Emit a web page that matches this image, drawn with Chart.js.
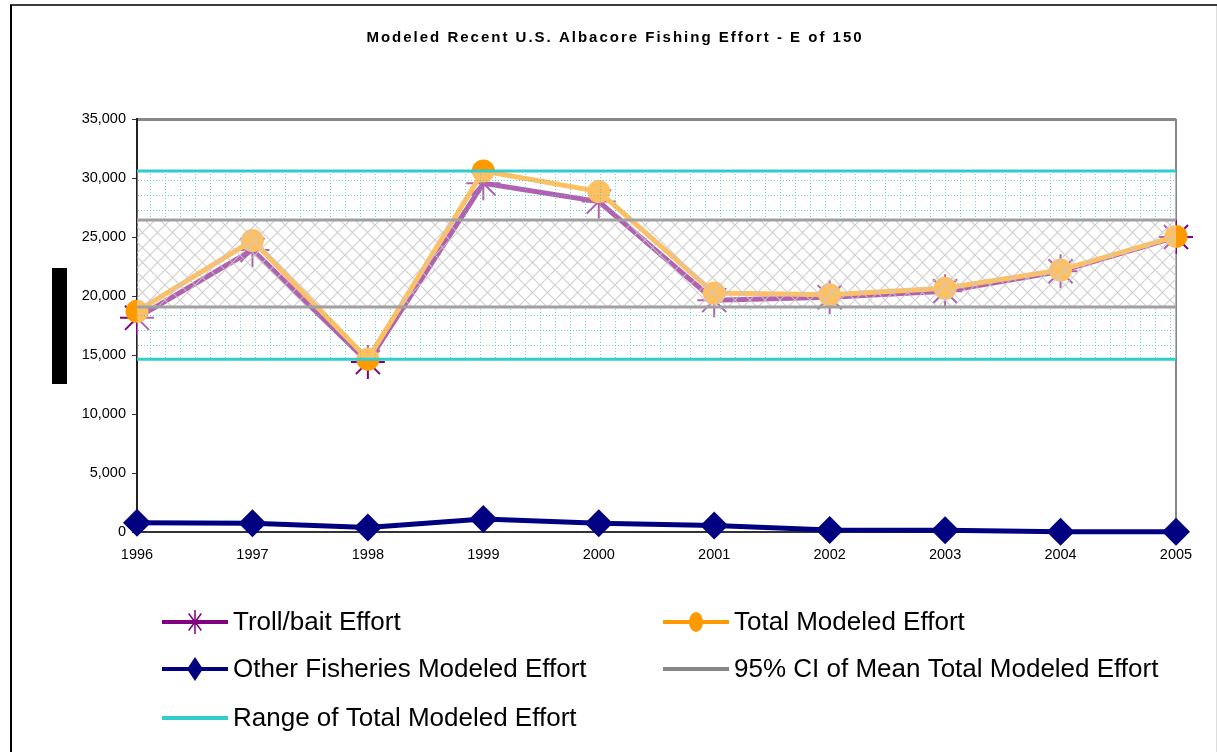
<!DOCTYPE html>
<html>
<head>
<meta charset="utf-8">
<title>Modeled Recent U.S. Albacore Fishing Effort</title>
<script src="https://cdn.jsdelivr.net/npm/chart.js@4.4.1/dist/chart.umd.min.js"></script>
<style>
  html, body { margin: 0; padding: 0; background: #fff; }
  canvas { display: block; }
</style>
</head>
<body>
<canvas id="effortChart" width="1217" height="752"></canvas>
<script>
// values
const years = ["1996", "1997", "1998", "1999", "2000", "2001", "2002", "2003", "2004", "2005"];
const trollEffort = [18150, 23900, 14400, 29550, 28000, 19650, 19900, 20400, 22100, 25000];
const totalEffort = [18700, 24700, 14650, 30600, 28850, 20250, 20100, 20650, 22200, 25050];
const otherEffort = [780, 750, 380, 1100, 750, 550, 170, 150, 20, 30];
const rangeLowValue = 14650;
const rangeHighValue = 30600;
const ciLowValue = 19060;
const ciHighValue = 26450;
const yTicks = [0, 5000, 10000, 15000, 20000, 25000, 30000, 35000];

const chartTitle = "Modeled Recent U.S. Albacore Fishing Effort - E of 150";
const seriesNames = [
    "Troll/bait Effort",
    "Total Modeled Effort",
    "Other Fisheries Modeled Effort",
    "95% CI of Mean Total Modeled Effort",
    "Range of Total Modeled Effort",
];

const FONT = '"Liberation Sans", Arial, sans-serif';

function makeGridPattern() {
    const c = document.createElement("canvas");
    c.width = 15;
    c.height = 15;
    const g = c.getContext("2d");
    g.fillStyle = "rgba(255,255,255,0.38)";
    g.fillRect(0, 0, 15, 15);
    g.fillStyle = "rgba(70,205,205,0.8)";
    for (let i = 0; i < 15; i += 3) {
        g.fillRect(0, i, 1, 1);
        g.fillRect(i, 0, 1, 1);
    }
    return g.createPattern(c, "repeat");
}

function makeHatchPattern() {
    const s = 15;
    const c = document.createElement("canvas");
    c.width = s;
    c.height = s;
    const g = c.getContext("2d");
    g.fillStyle = "rgba(255,255,255,0.38)";
    g.fillRect(0, 0, s, s);
    g.strokeStyle = "rgba(200,200,200,0.85)";
    g.lineWidth = 1.2;
    g.beginPath();
    g.moveTo(-1, -1);
    g.lineTo(s + 1, s + 1);
    g.moveTo(s + 1, -1);
    g.lineTo(-1, s + 1);
    g.stroke();
    return g.createPattern(c, "repeat");
}

const gridPattern = makeGridPattern();
const hatchPattern = makeHatchPattern();

function drawStar(ctx, x, y, rx, ry, color, w) {
    ctx.strokeStyle = color;
    ctx.lineWidth = w;
    ctx.beginPath();
    for (let k = 0; k < 4; k++) {
        const a = (Math.PI / 4) * k;
        ctx.moveTo(x - rx * Math.sin(a), y - ry * Math.cos(a));
        ctx.lineTo(x + rx * Math.sin(a), y + ry * Math.cos(a));
    }
    ctx.stroke();
}

// title, legend and outer frame
const decorPlugin = {
    id: "decor",
    afterDraw(chart) {
        const ctx = chart.ctx;
        ctx.save();

        // outer frame
        ctx.strokeStyle = "#3a3a3a";
        ctx.lineWidth = 2;
        ctx.beginPath();
        ctx.moveTo(10, 5);
        ctx.lineTo(1217, 5);
        ctx.stroke();
        ctx.strokeStyle = "#000";
        ctx.beginPath();
        ctx.moveTo(11, 5);
        ctx.lineTo(11, 752);
        ctx.stroke();
        ctx.strokeStyle = "#ddd";
        ctx.lineWidth = 1;
        ctx.beginPath();
        ctx.moveTo(1216.5, 6);
        ctx.lineTo(1216.5, 752);
        ctx.stroke();

        // blacked-out axis title
        ctx.fillStyle = "#000";
        ctx.fillRect(52, 268, 15, 116);

        // title
        ctx.font = "bold 15px " + FONT;
        ctx.letterSpacing = "2px";
        ctx.textAlign = "center";
        ctx.textBaseline = "middle";
        ctx.fillText(chartTitle, 615, 38);
        ctx.letterSpacing = "0px";

        // legend
        const cols = [162, 663];
        const rows = [622, 669, 718];
        const items = [
            { col: 0, row: 0, color: "#800080", marker: "star" },
            { col: 1, row: 0, color: "#FF9900", marker: "circle" },
            { col: 0, row: 1, color: "#000080", marker: "diamond" },
            { col: 1, row: 1, color: "#888888", marker: null },
            { col: 0, row: 2, color: "#33CCCC", marker: null },
        ];
        ctx.font = "26px " + FONT;
        ctx.textAlign = "left";
        items.forEach((it, i) => {
            const x0 = cols[it.col];
            const y = rows[it.row];
            const xm = x0 + 33;
            ctx.strokeStyle = it.color;
            ctx.lineWidth = 4;
            ctx.beginPath();
            ctx.moveTo(x0, y);
            ctx.lineTo(x0 + 66, y);
            ctx.stroke();
            if (it.marker === "star") {
                drawStar(ctx, xm, y, 9, 12, it.color, 1.5);
            } else if (it.marker === "circle") {
                ctx.fillStyle = it.color;
                ctx.beginPath();
                ctx.ellipse(xm, y, 7, 10, 0, 0, Math.PI * 2);
                ctx.fill();
            } else if (it.marker === "diamond") {
                ctx.fillStyle = it.color;
                ctx.beginPath();
                ctx.moveTo(xm, y - 12);
                ctx.lineTo(xm + 8, y);
                ctx.lineTo(xm, y + 12);
                ctx.lineTo(xm - 8, y);
                ctx.closePath();
                ctx.fill();
            }
            ctx.fillStyle = "#000";
            ctx.fillText(seriesNames[i], x0 + 71, y + 1);
        });

        ctx.restore();
    },
};

const ctx = document.getElementById("effortChart").getContext("2d");
const chart = new Chart(ctx, {
    type: "line",
    data: {
        labels: years,
        datasets: [
            {
                label: seriesNames[0],
                data: trollEffort,
                borderColor: "#800080",
                borderWidth: 5,
                pointStyle: "star",
                pointRadius: 17,
                pointBorderColor: "#800080",
                pointBorderWidth: 2,
                fill: false,
                order: 3,
                clip: false,
            },
            {
                label: seriesNames[1],
                data: totalEffort,
                borderColor: "#FF9900",
                borderWidth: 5,
                pointStyle: "circle",
                pointRadius: 11.5,
                pointBackgroundColor: "#FF9900",
                pointBorderColor: "#FF9900",
                pointBorderWidth: 0,
                fill: false,
                order: 2,
                clip: false,
            },
            {
                label: seriesNames[2],
                data: otherEffort,
                borderColor: "#000080",
                borderWidth: 5,
                pointStyle: "rectRot",
                pointRadius: 14,
                pointBackgroundColor: "#000080",
                pointBorderColor: "#000080",
                pointBorderWidth: 0,
                fill: false,
                order: 0,
                clip: false,
            },
            {
                label: "range low",
                data: years.map(() => rangeLowValue),
                borderColor: "#33CCCC",
                borderWidth: 3,
                pointRadius: 0,
                fill: false,
                order: 1,
            },
            {
                label: "ci low",
                data: years.map(() => ciLowValue),
                borderColor: "#A0A0A0",
                borderWidth: 3,
                pointRadius: 0,
                fill: "-1",
                backgroundColor: gridPattern,
                order: 1,
            },
            {
                label: "ci high",
                data: years.map(() => ciHighValue),
                borderColor: "#A0A0A0",
                borderWidth: 3,
                pointRadius: 0,
                fill: "-1",
                backgroundColor: hatchPattern,
                order: 1,
            },
            {
                label: "range high",
                data: years.map(() => rangeHighValue),
                borderColor: "#33CCCC",
                borderWidth: 3,
                pointRadius: 0,
                fill: "-1",
                backgroundColor: gridPattern,
                order: 1,
            },
        ],
    },
    options: {
        responsive: false,
        animation: false,
        events: [],
        layout: {
            padding: { top: 119, right: 41, left: 0, bottom: 0 },
        },
        plugins: {
            legend: { display: false },
            title: { display: false },
            tooltip: { enabled: false },
            filler: { drawTime: "beforeDatasetDraw" },
        },
        scales: {
            x: {
                offset: false,
                grid: {
                    display: true,
                    drawTicks: false,
                    lineWidth: 2,
                    color: (c) => (c.index === years.length - 1 ? "#888888" : "transparent"),
                },
                border: { color: "#333", width: 2 },
                ticks: {
                    color: "#000",
                    font: { family: FONT, size: 14.5 },
                    padding: 14,
                    maxRotation: 0,
                    autoSkip: false,
                },
                afterFit: (s) => {
                    s.height = 220;
                },
            },
            y: {
                min: 0,
                max: 35000,
                afterBuildTicks: (s) => {
                    s.ticks = yTicks.map((v) => ({ value: v }));
                },
                grid: {
                    lineWidth: 3,
                    color: (c) => (c.tick && c.tick.value === 35000 ? "#888888" : "transparent"),
                    tickColor: "#333",
                    tickLength: 5,
                    tickWidth: 1,
                },
                border: { color: "#222", width: 2 },
                ticks: {
                    color: "#000",
                    font: { family: FONT, size: 14.5 },
                    padding: 6,
                    callback: (v) => v.toLocaleString("en-US"),
                },
                afterFit: (s) => {
                    s.width = 137;
                },
            },
        },
    },
    plugins: [decorPlugin],
});
</script>
</body>
</html>
